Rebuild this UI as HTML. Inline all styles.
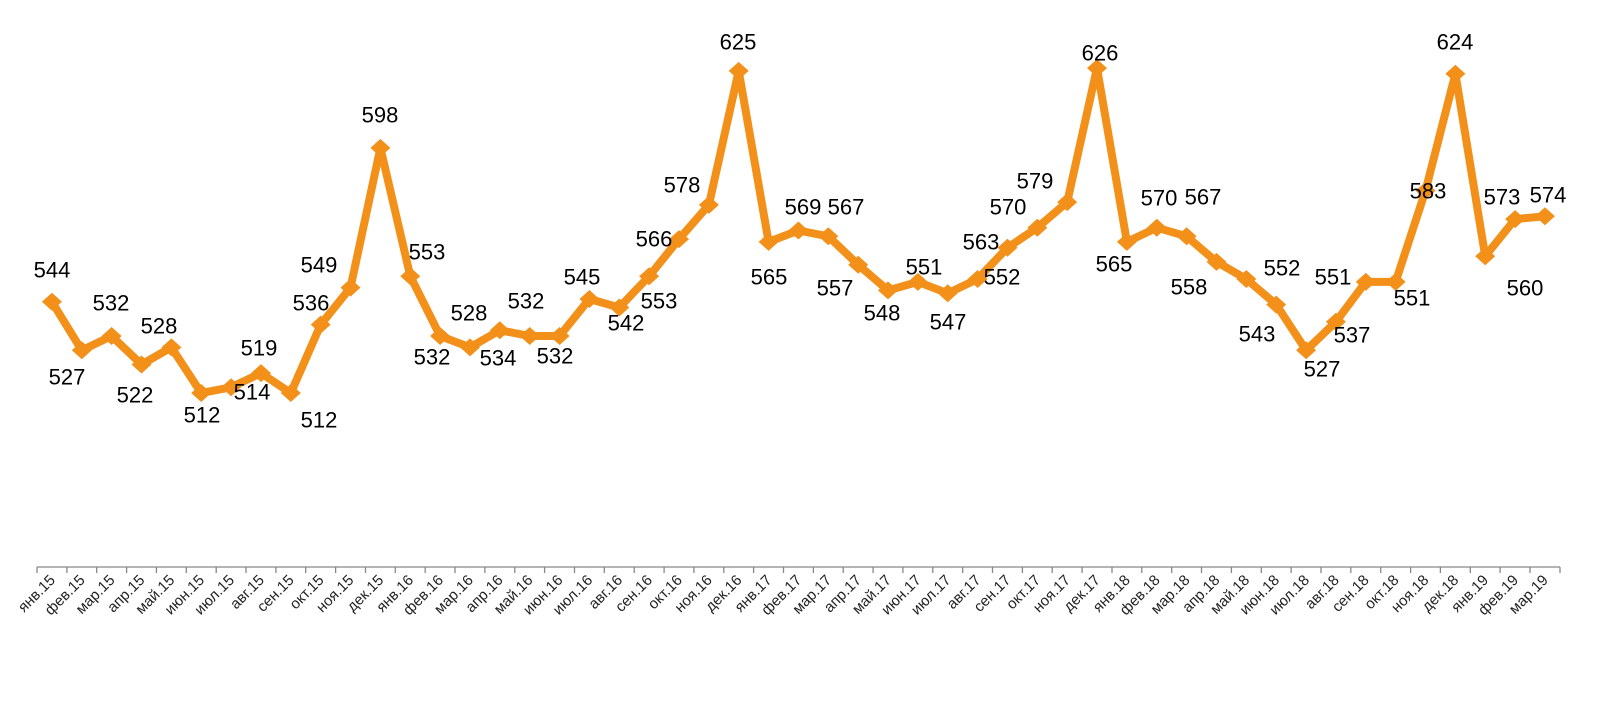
<!DOCTYPE html>
<html><head><meta charset="utf-8"><style>
html,body{margin:0;padding:0;background:#fff;}
svg{display:block;font-family:"Liberation Sans",Arial,sans-serif;}
.v{font-size:22px;fill:#000;text-anchor:middle;dominant-baseline:central;}
.c{font-size:15px;fill:#222;text-anchor:end;}
</style></head><body>
<svg width="1606" height="705" viewBox="0 0 1606 705">
<line x1="37" y1="567" x2="1560" y2="567" stroke="#888" stroke-width="1.3"/>
<path stroke="#888" stroke-width="1.3" fill="none" d="M37 567v6M66.9 567v6M96.7 567v6M126.6 567v6M156.4 567v6M186.3 567v6M216.2 567v6M246 567v6M275.9 567v6M305.7 567v6M335.6 567v6M365.5 567v6M395.3 567v6M425.2 567v6M455 567v6M484.9 567v6M514.8 567v6M544.6 567v6M574.5 567v6M604.3 567v6M634.2 567v6M664.1 567v6M693.9 567v6M723.8 567v6M753.6 567v6M783.5 567v6M813.4 567v6M843.2 567v6M873.1 567v6M902.9 567v6M932.8 567v6M962.7 567v6M992.5 567v6M1022.4 567v6M1052.2 567v6M1082.1 567v6M1112 567v6M1141.8 567v6M1171.7 567v6M1201.5 567v6M1231.4 567v6M1261.3 567v6M1291.1 567v6M1321 567v6M1350.8 567v6M1380.7 567v6M1410.6 567v6M1440.4 567v6M1470.3 567v6M1500.1 567v6M1530 567v6M1560 567v6"/>
<polyline fill="none" stroke="#F39019" stroke-width="8" stroke-linejoin="round" points="51.9,301.8 81.8,350.3 111.6,336 141.5,364.5 171.4,347.4 201.2,393 231.1,387.3 261,373.1 290.8,393 320.7,324.6 350.5,287.6 380.4,147.9 410.3,276.2 440.1,336 470,347.4 499.8,330.3 529.7,336 559.6,336 589.4,299 619.3,307.5 649.1,276.2 679,239.1 708.9,204.9 738.7,70.9 768.6,241.9 798.4,230.5 828.3,236.3 858.2,264.8 888,290.4 917.9,281.9 947.7,293.3 977.6,279 1007.5,247.7 1037.3,227.7 1067.2,202.1 1097,68.1 1126.9,241.9 1156.8,227.7 1186.6,236.3 1216.5,261.9 1246.3,279 1276.2,304.6 1306.1,350.3 1335.9,321.8 1365.8,281.9 1395.6,281.9 1425.5,190.7 1455.4,73.8 1485.2,256.2 1515.1,219.1 1544.9,216.3"/>
<g fill="#F39019">
<path d="M51.9 292.8l10 9-10 9-10-9z"/><path d="M81.8 341.3l10 9-10 9-10-9z"/><path d="M111.6 327l10 9-10 9-10-9z"/><path d="M141.5 355.5l10 9-10 9-10-9z"/><path d="M171.4 338.4l10 9-10 9-10-9z"/><path d="M201.2 384l10 9-10 9-10-9z"/><path d="M231.1 378.3l10 9-10 9-10-9z"/><path d="M261 364.1l10 9-10 9-10-9z"/><path d="M290.8 384l10 9-10 9-10-9z"/><path d="M320.7 315.6l10 9-10 9-10-9z"/><path d="M350.5 278.6l10 9-10 9-10-9z"/><path d="M380.4 138.9l10 9-10 9-10-9z"/><path d="M410.3 267.2l10 9-10 9-10-9z"/><path d="M440.1 327l10 9-10 9-10-9z"/><path d="M470 338.4l10 9-10 9-10-9z"/><path d="M499.8 321.3l10 9-10 9-10-9z"/><path d="M529.7 327l10 9-10 9-10-9z"/><path d="M559.6 327l10 9-10 9-10-9z"/><path d="M589.4 290l10 9-10 9-10-9z"/><path d="M619.3 298.5l10 9-10 9-10-9z"/><path d="M649.1 267.2l10 9-10 9-10-9z"/><path d="M679 230.1l10 9-10 9-10-9z"/><path d="M708.9 195.9l10 9-10 9-10-9z"/><path d="M738.7 61.9l10 9-10 9-10-9z"/><path d="M768.6 232.9l10 9-10 9-10-9z"/><path d="M798.4 221.5l10 9-10 9-10-9z"/><path d="M828.3 227.3l10 9-10 9-10-9z"/><path d="M858.2 255.8l10 9-10 9-10-9z"/><path d="M888 281.4l10 9-10 9-10-9z"/><path d="M917.9 272.9l10 9-10 9-10-9z"/><path d="M947.7 284.3l10 9-10 9-10-9z"/><path d="M977.6 270l10 9-10 9-10-9z"/><path d="M1007.5 238.7l10 9-10 9-10-9z"/><path d="M1037.3 218.7l10 9-10 9-10-9z"/><path d="M1067.2 193.1l10 9-10 9-10-9z"/><path d="M1097 59.1l10 9-10 9-10-9z"/><path d="M1126.9 232.9l10 9-10 9-10-9z"/><path d="M1156.8 218.7l10 9-10 9-10-9z"/><path d="M1186.6 227.3l10 9-10 9-10-9z"/><path d="M1216.5 252.9l10 9-10 9-10-9z"/><path d="M1246.3 270l10 9-10 9-10-9z"/><path d="M1276.2 295.6l10 9-10 9-10-9z"/><path d="M1306.1 341.3l10 9-10 9-10-9z"/><path d="M1335.9 312.8l10 9-10 9-10-9z"/><path d="M1365.8 272.9l10 9-10 9-10-9z"/><path d="M1395.6 272.9l10 9-10 9-10-9z"/><path d="M1425.5 181.7l10 9-10 9-10-9z"/><path d="M1455.4 64.8l10 9-10 9-10-9z"/><path d="M1485.2 247.2l10 9-10 9-10-9z"/><path d="M1515.1 210.1l10 9-10 9-10-9z"/><path d="M1544.9 207.3l10 9-10 9-10-9z"/>
</g>
<g class="v">
<text x="52" y="270">544</text><text x="67" y="377">527</text><text x="111" y="303">532</text><text x="135" y="395">522</text><text x="159" y="326">528</text><text x="202" y="415">512</text><text x="252" y="392">514</text><text x="259" y="348">519</text><text x="319" y="420">512</text><text x="311" y="303">536</text><text x="319" y="265">549</text><text x="380" y="115">598</text><text x="427" y="252">553</text><text x="432" y="357">532</text><text x="469" y="313">528</text><text x="498" y="358">534</text><text x="526" y="301">532</text><text x="555" y="356">532</text><text x="582" y="277">545</text><text x="626" y="323">542</text><text x="659" y="301">553</text><text x="654" y="239">566</text><text x="682" y="185">578</text><text x="738" y="42">625</text><text x="769" y="277">565</text><text x="803" y="207">569</text><text x="846" y="207">567</text><text x="835" y="288">557</text><text x="882" y="313">548</text><text x="924" y="267">551</text><text x="948" y="322">547</text><text x="1002" y="277">552</text><text x="981" y="242">563</text><text x="1008" y="207">570</text><text x="1035" y="181">579</text><text x="1100" y="53">626</text><text x="1114" y="264">565</text><text x="1159" y="198">570</text><text x="1203" y="197">567</text><text x="1189" y="287">558</text><text x="1282" y="268">552</text><text x="1257" y="334">543</text><text x="1322" y="369">527</text><text x="1352" y="335">537</text><text x="1333" y="277">551</text><text x="1412" y="298">551</text><text x="1428" y="191">583</text><text x="1455" y="42">624</text><text x="1525" y="288">560</text><text x="1502" y="197">573</text><text x="1548" y="195">574</text>
</g>
<g class="c">
<text transform="translate(56,581) rotate(-45)">янв.15</text><text transform="translate(85.8,581) rotate(-45)">фев.15</text><text transform="translate(115.6,581) rotate(-45)">мар.15</text><text transform="translate(145.5,581) rotate(-45)">апр.15</text><text transform="translate(175.4,581) rotate(-45)">май.15</text><text transform="translate(205.2,581) rotate(-45)">июн.15</text><text transform="translate(235.1,581) rotate(-45)">июл.15</text><text transform="translate(265,581) rotate(-45)">авг.15</text><text transform="translate(294.8,581) rotate(-45)">сен.15</text><text transform="translate(324.7,581) rotate(-45)">окт.15</text><text transform="translate(354.5,581) rotate(-45)">ноя.15</text><text transform="translate(384.4,581) rotate(-45)">дек.15</text><text transform="translate(414.3,581) rotate(-45)">янв.16</text><text transform="translate(444.1,581) rotate(-45)">фев.16</text><text transform="translate(474,581) rotate(-45)">мар.16</text><text transform="translate(503.8,581) rotate(-45)">апр.16</text><text transform="translate(533.7,581) rotate(-45)">май.16</text><text transform="translate(563.6,581) rotate(-45)">июн.16</text><text transform="translate(593.4,581) rotate(-45)">июл.16</text><text transform="translate(623.3,581) rotate(-45)">авг.16</text><text transform="translate(653.1,581) rotate(-45)">сен.16</text><text transform="translate(683,581) rotate(-45)">окт.16</text><text transform="translate(712.9,581) rotate(-45)">ноя.16</text><text transform="translate(742.7,581) rotate(-45)">дек.16</text><text transform="translate(772.6,581) rotate(-45)">янв.17</text><text transform="translate(802.4,581) rotate(-45)">фев.17</text><text transform="translate(832.3,581) rotate(-45)">мар.17</text><text transform="translate(862.2,581) rotate(-45)">апр.17</text><text transform="translate(892,581) rotate(-45)">май.17</text><text transform="translate(921.9,581) rotate(-45)">июн.17</text><text transform="translate(951.7,581) rotate(-45)">июл.17</text><text transform="translate(981.6,581) rotate(-45)">авг.17</text><text transform="translate(1011.5,581) rotate(-45)">сен.17</text><text transform="translate(1041.3,581) rotate(-45)">окт.17</text><text transform="translate(1071.2,581) rotate(-45)">ноя.17</text><text transform="translate(1101,581) rotate(-45)">дек.17</text><text transform="translate(1130.9,581) rotate(-45)">янв.18</text><text transform="translate(1160.8,581) rotate(-45)">фев.18</text><text transform="translate(1190.6,581) rotate(-45)">мар.18</text><text transform="translate(1220.5,581) rotate(-45)">апр.18</text><text transform="translate(1250.3,581) rotate(-45)">май.18</text><text transform="translate(1280.2,581) rotate(-45)">июн.18</text><text transform="translate(1310.1,581) rotate(-45)">июл.18</text><text transform="translate(1339.9,581) rotate(-45)">авг.18</text><text transform="translate(1369.8,581) rotate(-45)">сен.18</text><text transform="translate(1399.6,581) rotate(-45)">окт.18</text><text transform="translate(1429.5,581) rotate(-45)">ноя.18</text><text transform="translate(1459.4,581) rotate(-45)">дек.18</text><text transform="translate(1489.2,581) rotate(-45)">янв.19</text><text transform="translate(1519.1,581) rotate(-45)">фев.19</text><text transform="translate(1548.9,581) rotate(-45)">мар.19</text>
</g>
</svg>
</body></html>
